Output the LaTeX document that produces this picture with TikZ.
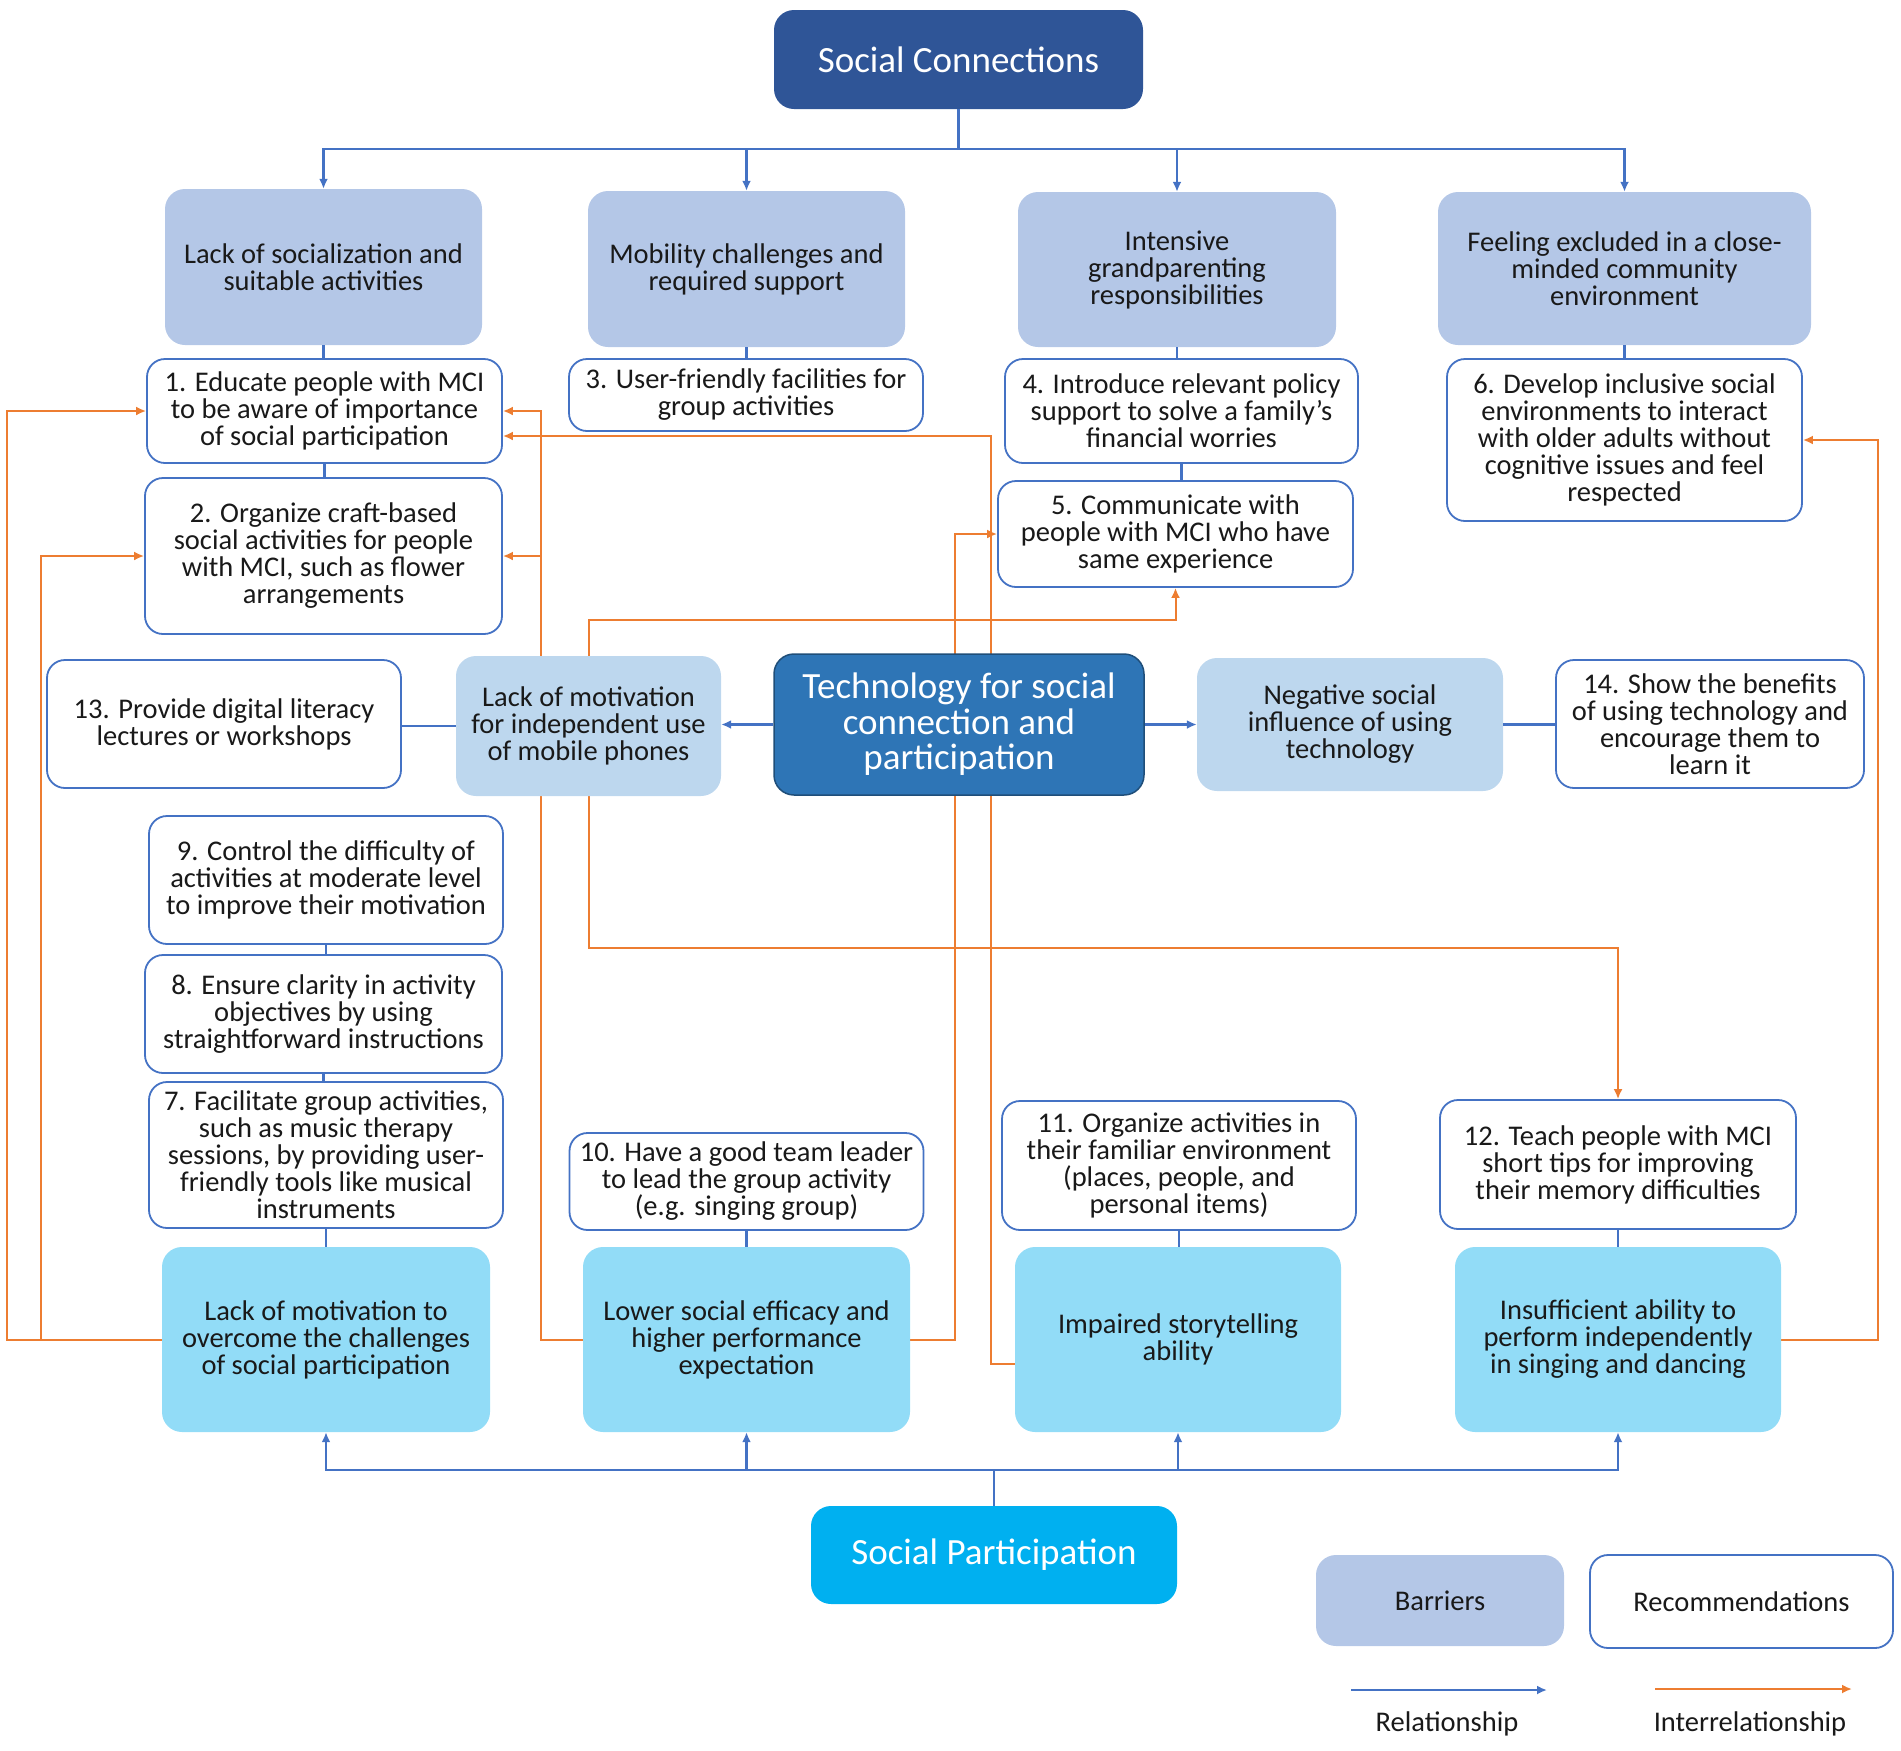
\documentclass[tikz,border=0pt]{standalone}
\usepackage{fontspec}
\setmainfont{Carlito}
\usetikzlibrary{arrows.meta,backgrounds}

\definecolor{scblue}{RGB}{47,85,151}
\definecolor{techblue}{RGB}{46,117,182}
\definecolor{techline}{RGB}{31,78,121}
\definecolor{partblue}{RGB}{0,176,240}
\definecolor{barfill}{RGB}{180,199,231}
\definecolor{techbar}{RGB}{189,215,238}
\definecolor{partbar}{RGB}{146,220,247}
\definecolor{recline}{RGB}{68,114,196}
\definecolor{relline}{RGB}{68,114,196}
\definecolor{interline}{RGB}{237,125,49}

\tikzset{
    box/.style={rounded corners=18pt, inner sep=0pt, align=center, text=black!90, font=\fontsize{28.5}{27}\selectfont},
    head/.style={box, rounded corners=20pt, text=white, font=\fontsize{37}{35.5}\selectfont},
    barrier/.style={box, rounded corners=20pt, fill=barfill},
    techbarrier/.style={box, rounded corners=20pt, fill=techbar},
    partbarrier/.style={box, rounded corners=20pt, fill=partbar},
    rec/.style={box, fill=white, draw=recline, line width=1.8pt},
    link/.style={draw=relline, line width=2.5pt},
    rel/.style={link, -{Latex[length=10pt,width=9pt]}},
    inter/.style={draw=interline, line width=2pt, -{Latex[length=10pt,width=9pt]}}
}

\begin{document}
\begin{tikzpicture}[x=1pt, y=-1pt]
\useasboundingbox (0,0) rectangle (1901,1751);

% headings
\node[head, fill=scblue, minimum width=369pt, minimum height=99pt] (sc) at (958.5,59.5) {Social Connections};
\node[head, fill=techblue, draw=techline, line width=1.5pt, minimum width=370pt, minimum height=141pt] (tech) at (959,724.5) {Technology for social\\connection and\\participation};
\node[head, fill=partblue, minimum width=366pt, minimum height=98pt] (sp) at (994,1555) {Social Participation};

% barriers: social connections
\node[barrier, minimum width=317pt, minimum height=156pt] (b1) at (323.5,267) {Lack of socialization and\\suitable activities};
\node[barrier, minimum width=317pt, minimum height=156pt] (b2) at (746.5,269) {Mobility challenges and\\required support};
\node[barrier, minimum width=318pt, minimum height=155pt] (b3) at (1177,269.5) {Intensive\\grandparenting\\responsibilities};
\node[barrier, minimum width=373pt, minimum height=153pt] (b4) at (1624.5,268.5) {Feeling excluded in a close-\\minded community\\environment};

% recommendations: social connections
\node[rec, minimum width=355pt, minimum height=104pt] (r1) at (324.5,411) {1. Educate people with MCI\\to be aware of importance\\of social participation};
\node[rec, minimum width=357pt, minimum height=156pt] (r2) at (323.5,556) {2. Organize craft-based\\social activities for people\\with MCI, such as flower\\arrangements};
\node[rec, minimum width=354pt, minimum height=72pt] (r3) at (746,395) {3. User-friendly facilities for\\group activities};
\node[rec, minimum width=353pt, minimum height=104pt] (r4) at (1181.5,411) {4. Introduce relevant policy\\support to solve a family’s\\financial worries};
\node[rec, minimum width=355pt, minimum height=106pt] (r5) at (1175.5,534) {5. Communicate with\\people with MCI who have\\same experience};
\node[rec, minimum width=355pt, minimum height=162pt] (r6) at (1624.5,440) {6. Develop inclusive social\\environments to interact\\with older adults without\\cognitive issues and feel\\respected};

% technology row
\node[rec, minimum width=354pt, minimum height=128pt] (r13) at (224,724) {13. Provide digital literacy\\lectures or workshops};
\node[techbarrier, minimum width=265pt, minimum height=140pt] (bm) at (588.5,726) {Lack of motivation\\for independent use\\of mobile phones};
\node[techbarrier, minimum width=306pt, minimum height=133pt] (bn) at (1350,724.5) {Negative social\\influence of using\\technology};
\node[rec, minimum width=308pt, minimum height=128pt] (r14) at (1710,724) {14. Show the benefits\\of using technology and\\encourage them to\\learn it};

% recommendations: social participation
\node[rec, minimum width=354pt, minimum height=128pt] (r9) at (326,880) {9. Control the difficulty of\\activities at moderate level\\to improve their motivation};
\node[rec, minimum width=357pt, minimum height=118pt] (r8) at (323.5,1014) {8. Ensure clarity in activity\\objectives by using\\straightforward instructions};
\node[rec, minimum width=354pt, minimum height=146pt] (r7) at (326,1155) {7. Facilitate group activities,\\such as music therapy\\sessions, by providing user-\\friendly tools like musical\\instruments};
\node[rec, minimum width=354pt, minimum height=97pt] (r10) at (746.5,1181.5) {10. Have a good team leader\\to lead the group activity\\(e.g. singing group)};
\node[rec, minimum width=354pt, minimum height=129pt] (r11) at (1179,1165.5) {11. Organize activities in\\their familiar environment\\(places, people, and\\personal items)};
\node[rec, minimum width=356pt, minimum height=129pt] (r12) at (1618,1164.5) {12. Teach people with MCI\\short tips for improving\\their memory difficulties};

% barriers: social participation
\node[partbarrier, minimum width=328pt, minimum height=185pt] (p1) at (326,1339.5) {Lack of motivation to\\overcome the challenges\\of social participation};
\node[partbarrier, minimum width=327pt, minimum height=185pt] (p2) at (746.5,1339.5) {Lower social efficacy and\\higher performance\\expectation};
\node[partbarrier, minimum width=326pt, minimum height=185pt] (p3) at (1178,1339.5) {Impaired storytelling\\ability};
\node[partbarrier, minimum width=326pt, minimum height=185pt] (p4) at (1618,1339.5) {Insufficient ability to\\perform independently\\in singing and dancing};

% relationships
\coordinate (top) at (958.5,149);
\coordinate (bot) at (994,1470);
\draw[link] (sc.south) -- (top);
\foreach \b in {b1,b2,b3,b4}{
    \draw[rel] (top) -| (\b.north);
}
\draw[link] (sp.north) -- (bot);
\foreach \p in {p1,p2,p3,p4}{
    \draw[rel] (bot) -| (\p.south);
}
\foreach \a/\b in {b1/r1, r1/r2, b2/r3, b3/r4, r4/r5, b4/r6, r9/r8, r8/r7, r7/p1, r10/p2, r11/p3, r12/p4}{
    \draw[link] (\a.south) -- (\a.south |- \b.north);
}
\draw[rel] (tech.west) -- (tech.west -| bm.east);
\draw[link] (bm.west) -- (bm.west -| r13.east);
\draw[rel] (tech.east) -- (tech.east -| bn.west);
\draw[link] (bn.east) -- (bn.east -| r14.west);

% interrelationships
\begin{scope}[on background layer]
\draw[inter] (p1.west) -- ++(-155,0) |- (r1.west);
\draw[inter] (p1.west) -- ++(-121,0) |- (r2.west);
\draw[inter] (p2.west) -- ++(-42,0) |- (r1.east);
\draw[inter] (p2.west) -- ++(-42,0) |- (r2.east);
\draw[inter] (p2.east) -- ++(45,0) |- (r5.west);
\draw[inter] ([yshift=-24pt]p3.west) -- ++(-24,0) |- ([yshift=-25pt]r1.east);
\draw[inter] (bm.north) -- ++(0,-36) -| (r5.south);
\draw[inter] (bm.south) -- ++(0,152) -| (r12.north);
\draw[inter] (p4.east) -- ++(97,0) |- (r6.east);
\end{scope}

% legend
\node[barrier, minimum width=248pt, minimum height=91pt] (lbar) at (1440,1600.5) {Barriers};
\node[rec, minimum width=303pt, minimum height=93pt] (lrec) at (1741.5,1601.5) {Recommendations};
\coordinate (rela) at (1351,1690);
\coordinate (relb) at (1547,1690);
\coordinate (intera) at (1655,1689);
\coordinate (interb) at (1852,1689);
\draw[rel] (rela) -- (relb);
\draw[inter] (intera) -- (interb);
\node[box] (lrel) at (1447,1724) {Relationship};
\node[box] (linter) at (1750,1724) {Interrelationship};
\end{tikzpicture}
\end{document}
